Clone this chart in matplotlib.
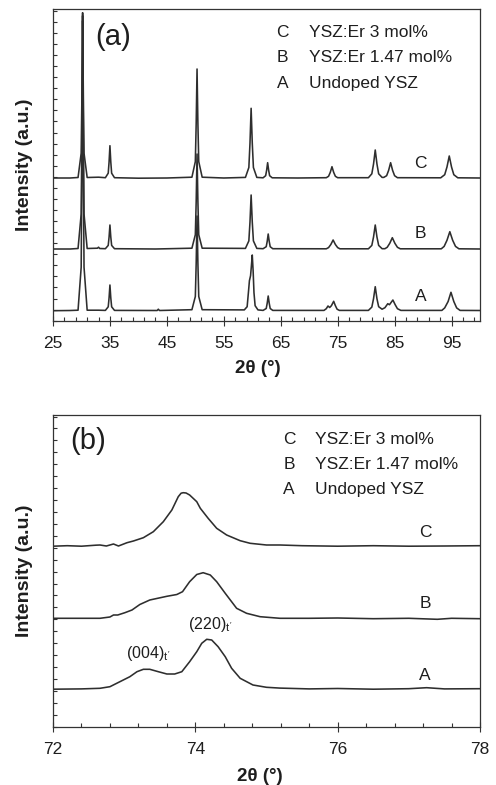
import numpy as np
import matplotlib
matplotlib.use("Agg")
import matplotlib.pyplot as plt
from matplotlib.ticker import MultipleLocator, FixedLocator, NullFormatter

plt.rcParams['font.family'] = ['Liberation Sans', 'DejaVu Sans']
plt.rcParams['mathtext.fontset'] = 'custom'
plt.rcParams['mathtext.rm'] = 'Liberation Sans'
plt.rcParams['mathtext.it'] = 'Liberation Sans'

# ---------------- data: panel (a), full scan ----------------
a_C_x = [25.0, 28.0, 29.4, 29.95, 30.08, 30.2, 30.33, 30.45, 31.0, 33.0, 34.2, 34.7, 34.85, 35.0, 35.15, 35.3, 35.8,
         40.0, 45.0, 49.4, 50.0, 50.15, 50.3, 50.45, 50.6, 51.2, 55.0, 58.8, 59.4, 59.6, 59.8, 60.0, 60.2, 60.8,
         61.9, 62.35, 62.52, 62.7, 62.88, 63.05, 63.5, 68.0, 73.0, 73.4, 73.7, 74.0, 74.3, 74.6, 75.0,
         80.4, 81.0, 81.3, 81.6, 81.9, 82.2, 82.8, 83.1, 83.6, 83.95, 84.3, 84.65, 85.0, 85.5,
         93.1, 93.8, 94.2, 94.6, 95.0, 95.4, 96.1, 100.0]
a_C_y = [142.7, 142.7, 143.2, 167.5, 225.3, 308.0, 225.3, 167.5, 143.2, 143.5, 143.0, 147.5, 158.8, 175.0, 158.8, 147.5, 143.0,
         142.5, 142.7, 143.5, 159.1, 197.2, 251.7, 197.2, 159.1, 143.5, 142.7, 143.3, 153.2, 177.6, 212.4, 177.6, 153.2, 143.3,
         142.9, 145.0, 150.3, 158.0, 150.3, 145.0, 142.9, 142.7, 143.0, 144.4, 148.3, 154.0, 148.3, 144.4, 143.0,
         143.0, 146.9, 156.7, 170.7, 156.7, 146.9, 143.3, 143.3, 145.0, 150.3, 158.0, 150.3, 145.0, 143.0,
         142.9, 146.0, 153.7, 164.7, 153.7, 146.0, 142.9, 142.7]

a_B_x = [25.0, 28.0, 29.4, 29.95, 30.08, 30.2, 30.33, 30.45, 31.0, 32.8, 33.0, 33.2, 34.2, 34.7, 34.85, 35.0, 35.15, 35.3, 35.8,
         43.0, 49.4, 50.0, 50.15, 50.3, 50.45, 50.6, 51.2, 58.8, 59.4, 59.6, 59.8, 60.0, 60.2, 60.8,
         61.9, 62.45, 62.62, 62.8, 62.98, 63.15, 63.6, 73.0, 73.4, 73.8, 74.2, 74.6, 75.0, 75.4,
         80.4, 81.0, 81.3, 81.6, 81.9, 82.2, 82.8, 83.3, 83.7, 84.15, 84.6, 85.05, 85.5, 86.0,
         93.2, 93.7, 94.2, 94.7, 95.2, 95.7, 96.3, 100.0]
a_B_y = [71.7, 71.7, 72.2, 106.7, 188.3, 305.0, 188.3, 106.7, 72.2, 72.5, 73.5, 72.2, 72.0, 75.3, 83.7, 95.7, 83.7, 75.3, 72.0,
         71.7, 72.5, 86.0, 119.2, 166.7, 119.2, 86.0, 72.5, 72.3, 79.8, 98.7, 125.7, 98.7, 79.8, 72.3,
         72.0, 74.0, 79.2, 86.7, 79.2, 74.0, 72.0, 71.9, 73.1, 76.2, 80.7, 76.2, 73.1, 71.9,
         71.9, 75.3, 83.7, 95.7, 83.7, 75.3, 72.0, 72.0, 73.4, 77.4, 83.0, 77.4, 73.4, 71.9,
         71.9, 74.3, 80.4, 89.0, 80.4, 74.3, 71.9, 71.7]

a_A_x = [25.0, 28.0, 29.4, 29.95, 30.08, 30.2, 30.33, 30.45, 31.0, 33.0, 34.2, 34.7, 34.85, 35.0, 35.15, 35.3, 35.8,
         43.3, 43.5, 43.7, 49.4, 50.0, 50.15, 50.3, 50.45, 50.6, 51.2,
         58.6, 59.1, 59.35, 59.5, 59.7, 59.85, 60.0, 60.15, 60.3, 60.5, 61.0,
         61.9, 62.45, 62.62, 62.8, 62.98, 63.15, 63.6, 72.6, 73.0, 73.3, 73.6, 73.9, 74.3, 74.6, 74.9, 75.3,
         80.4, 81.0, 81.3, 81.6, 81.9, 82.2, 82.8, 83.3, 83.8, 84.1, 84.7, 85.1, 85.5, 86.1,
         93.3, 93.8, 94.4, 94.9, 95.4, 95.9, 96.5, 100.0]
a_A_y = [10.0, 10.2, 10.5, 53.5, 155.0, 300.0, 155.0, 53.5, 10.5, 10.5, 10.3, 13.9, 22.9, 35.7, 22.9, 13.9, 10.3,
         10.2, 11.5, 10.2, 11.0, 24.2, 57.4, 104.7, 57.4, 24.2, 11.0,
         10.8, 14.0, 30.0, 40.0, 45.0, 55.0, 65.7, 50.0, 28.0, 15.0, 10.8,
         10.3, 12.2, 17.4, 24.7, 17.4, 12.2, 10.3, 10.3, 12.0, 14.7, 13.2, 15.0, 19.4, 15.0, 11.5, 10.3,
         10.3, 13.6, 22.0, 34.0, 22.0, 14.0, 11.5, 13.0, 17.0, 16.0, 20.7, 16.0, 12.0, 10.3,
         10.3, 12.8, 19.2, 28.4, 19.2, 12.8, 10.3, 10.2]

# ---------------- data: panel (b), 72-78 deg detail ----------------
b_C_x = [72.00, 72.20, 72.40, 72.60, 72.66, 72.75, 72.85, 72.92, 73.04, 73.13, 73.27, 73.41, 73.55, 73.67, 73.76,
         73.80, 73.83, 73.87, 73.92, 74.02, 74.07, 74.18, 74.30, 74.44, 74.63, 74.77, 75.00, 75.19,
         75.50, 76.00, 76.50, 77.00, 77.50, 78.00]
b_C_y = [180.5, 181.0, 180.5, 181.5, 181.7, 180.7, 182.7, 180.7, 184.0, 185.7, 189.0, 195.0, 205.0, 216.7, 230.0,
         233.5, 234.0, 233.7, 231.7, 225.0, 218.4, 208.4, 198.4, 191.7, 186.0, 183.4, 181.7, 181.7,
         181.0, 180.5, 181.0, 180.5, 180.7, 181.0]

b_B_x = [72.00, 72.38, 72.66, 72.80, 72.85, 72.91, 73.01, 73.11, 73.22, 73.36, 73.60, 73.74, 73.82, 73.92, 74.02,
         74.11, 74.21, 74.30, 74.42, 74.58, 74.72, 74.91, 75.19, 75.60, 76.00, 76.50, 77.00, 77.40, 77.60, 78.00]
b_B_y = [108.4, 108.4, 108.4, 109.7, 111.7, 111.7, 114.0, 116.7, 122.2, 126.7, 130.4, 132.2, 135.0, 145.0, 152.2,
         154.0, 151.7, 145.0, 133.4, 118.4, 113.4, 110.0, 108.4, 108.4, 108.7, 108.0, 108.4, 107.4, 108.4, 108.0]

b_A_x = [72.00, 72.40, 72.66, 72.80, 72.94, 73.08, 73.18, 73.27, 73.36, 73.48, 73.60, 73.71, 73.81, 73.92, 74.02,
         74.09, 74.16, 74.23, 74.32, 74.42, 74.51, 74.63, 74.81, 75.00, 75.19, 75.60, 76.00, 76.50, 77.00, 77.25,
         77.50, 78.00]
b_A_y = [37.5, 37.8, 38.4, 40.0, 45.0, 50.0, 55.0, 57.4, 57.4, 55.0, 52.7, 52.7, 55.0, 65.0, 75.0,
         83.4, 87.4, 86.7, 80.0, 70.0, 58.4, 48.4, 41.7, 39.4, 38.6, 37.8, 38.2, 37.5, 38.0, 39.0,
         37.8, 38.0]

series_labels = ["C", "B", "A"]
legend_names = ["YSZ:Er 3 mol%", "YSZ:Er 1.47 mol%", "Undoped YSZ"]
a_letter_x = 89.6
a_letter_y = [157.7, 86.7, 24.0]
b_letter_x = 77.23
b_letter_y = [194.0, 123.4, 51.7]
b_peak_names = ["(004)$_{t'}$", "(220)$_{t'}$"]
b_peak_x = [73.34, 74.21]
b_peak_y = [73.4, 101.7]

# ---------------- figure ----------------
W, H = 496, 785
fig = plt.figure(figsize=(W / 100, H / 100), dpi=100)
line_col = '#2e2e2e'
txt_col = '#1e1e1e'

def px_axes(l, t, r, b):
    return fig.add_axes([l / W, 1 - b / H, (r - l) / W, (b - t) / H])

axa = px_axes(53, 9.3, 480, 320.7)
axb = px_axes(53, 415, 480, 726.7)

for x, y in [(a_C_x, a_C_y), (a_B_x, a_B_y), (a_A_x, a_A_y)]:
    axa.plot(x, y, color=line_col, lw=1.15, solid_joinstyle='round')
for x, y in [(b_C_x, b_C_y), (b_B_x, b_B_y), (b_A_x, b_A_y)]:
    axb.plot(x, y, color=line_col, lw=1.15, solid_joinstyle='round')

axa.set_xlim(25, 100)
axa.set_ylim(0, 311.4)
axb.set_xlim(72, 78)
axb.set_ylim(0, 311.7)

axa.xaxis.set_major_locator(FixedLocator(list(range(25, 100, 10))))
axa.xaxis.set_minor_locator(FixedLocator(list(range(27, 100, 2))))
axa.yaxis.set_major_locator(MultipleLocator(11.07))
axb.xaxis.set_major_locator(FixedLocator([72, 74, 76, 78]))
axb.xaxis.set_minor_locator(FixedLocator([round(72 + 0.4 * i, 2) for i in range(16)]))
axb.yaxis.set_major_locator(MultipleLocator(11.93))

for ax in (axa, axb):
    for s in ax.spines.values():
        s.set_color('#333333')
        s.set_linewidth(0.9)
    ax.tick_params(axis='x', which='major', direction='inout', length=7, width=0.8,
                   colors='#333333', labelcolor=txt_col, labelsize=12.5, pad=7.5, top=False)
    ax.tick_params(axis='x', which='minor', direction='in', length=3, width=0.8,
                   colors='#333333', top=False)
    ax.tick_params(axis='y', which='major', direction='in', length=3, width=0.8,
                   colors='#333333', left=True, right=False, labelleft=False)
    ax.yaxis.set_major_formatter(NullFormatter())
    ax.text(-0.066, 0.5, 'Intensity (a.u.)', transform=ax.transAxes, rotation=90,
            ha='center', va='center', fontsize=14, fontweight='bold', color=txt_col)

axa.text(0.479, -0.152, '2θ (°)', transform=axa.transAxes, ha='center', va='center',
         fontsize=13.5, fontweight='bold', color=txt_col)
axb.text(0.485, -0.160, '2θ (°)', transform=axb.transAxes, ha='center', va='center',
         fontsize=13.5, fontweight='bold', color=txt_col)

axa.text(0.141, 0.912, '(a)', transform=axa.transAxes, ha='center', va='center',
         fontsize=21, color=txt_col)
axb.text(0.083, 0.918, '(b)', transform=axb.transAxes, ha='center', va='center',
         fontsize=21, color=txt_col)

a_rows = [0.926, 0.845, 0.762]
b_rows = [0.920, 0.840, 0.762]
for lab, name, ya, yb in zip(series_labels, legend_names, a_rows, b_rows):
    axa.text(0.538, ya, lab, transform=axa.transAxes, ha='center', va='center', fontsize=12.5, color=txt_col)
    axa.text(0.600, ya, name, transform=axa.transAxes, ha='left', va='center', fontsize=12.5, color=txt_col)
    axb.text(0.553, yb, lab, transform=axb.transAxes, ha='center', va='center', fontsize=12.5, color=txt_col)
    axb.text(0.614, yb, name, transform=axb.transAxes, ha='left', va='center', fontsize=12.5, color=txt_col)

for lab, ya, yb in zip(series_labels, a_letter_y, b_letter_y):
    axa.text(a_letter_x, ya, lab, ha='center', va='center', fontsize=12.5, color=txt_col)
    axb.text(b_letter_x, yb, lab, ha='center', va='center', fontsize=12.5, color=txt_col)

for name, x, y in zip(b_peak_names, b_peak_x, b_peak_y):
    axb.text(x, y, name, ha='center', va='center', fontsize=11.5, color=txt_col)

fig.savefig('out.png', dpi=100)
